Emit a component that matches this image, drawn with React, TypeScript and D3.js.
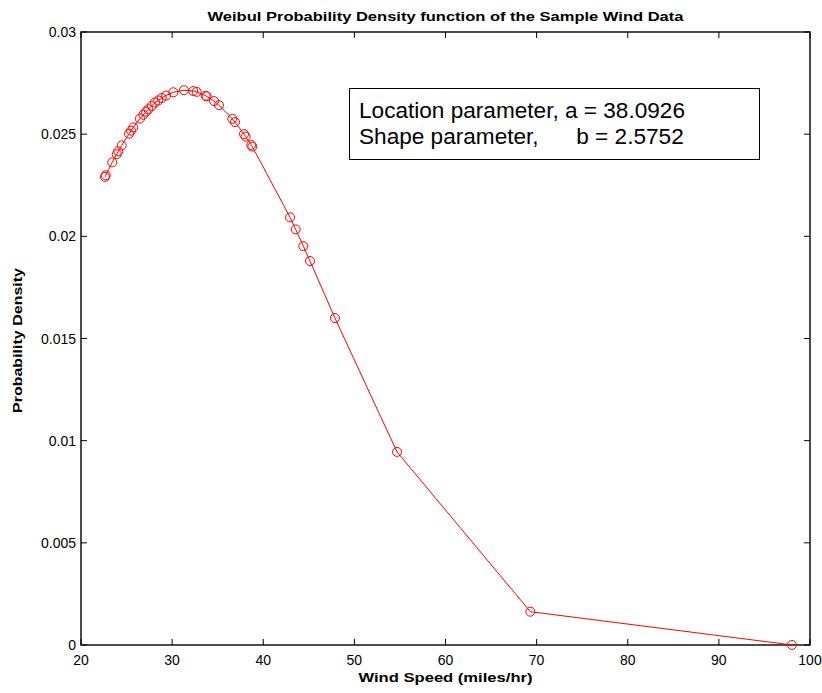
import React from 'react';
import * as d3 from 'd3';

const windSpeed = [22.63, 22.72, 23.43, 23.92, 24.09, 24.47, 25.27, 25.49, 25.74, 26.47, 26.84, 27.13, 27.39, 27.76, 28.12, 28.48, 28.86, 29.33, 30.13, 31.3, 32.32, 32.7, 33.68, 33.79, 34.6, 35.14, 36.6, 36.9, 37.89, 38.07, 38.69, 38.8, 42.94, 43.56, 44.4, 45.13, 47.87, 54.68, 69.31, 98.02];
const density = [0.02291, 0.02299, 0.02362, 0.02402, 0.02416, 0.02445, 0.02502, 0.02517, 0.02533, 0.02576, 0.02595, 0.0261, 0.02622, 0.02638, 0.02655, 0.02665, 0.02677, 0.02689, 0.02705, 0.02715, 0.02711, 0.02707, 0.02688, 0.02685, 0.02662, 0.02642, 0.02575, 0.02559, 0.025, 0.02488, 0.02447, 0.02439, 0.02093, 0.02034, 0.01952, 0.01879, 0.016, 0.00945, 0.00163, 0.0000033];

const xTicks = [20, 30, 40, 50, 60, 70, 80, 90, 100];
const xTickLabels = ['20', '30', '40', '50', '60', '70', '80', '90', '100'];
const yTicks = [0, 0.005, 0.01, 0.015, 0.02, 0.025, 0.03];
const yTickLabels = ['0', '0.005', '0.01', '0.015', '0.02', '0.025', '0.03'];

const titleText = 'Weibul Probability Density function of the Sample Wind Data';
const xLabelText = 'Wind Speed (miles/hr)';
const yLabelText = 'Probability Density';
const annotationLines = ['Location parameter, a = 38.0926', 'Shape parameter,      b = 2.5752'];

const W = 822;
const H = 693;
const left = 81;
const right = 810;
const top = 32;
const bottom = 645;
const FONT = "'Liberation Sans', Arial, Helvetica, sans-serif";
const RED = '#ff0000';
const TICK = 6;

export default function App() {
  const x = d3.scaleLinear().domain([20, 100]).range([left, right]);
  const y = d3.scaleLinear().domain([0, 0.03]).range([bottom, top]);
  const pts = windSpeed.map((w, i) => [x(w), y(density[i])] as [number, number]);
  const line = d3.line<[number, number]>()(pts) || '';

  return (
    <svg width={W} height={H} style={{ position: 'absolute', left: 0, top: 0, background: '#fff' }} xmlns="http://www.w3.org/2000/svg">
      <rect x={0} y={0} width={W} height={H} fill="#fff" />
      <text x={(left + right) / 2} y={21} textAnchor="middle" fontFamily={FONT} fontWeight="bold" fontSize={13.5} textLength={476} lengthAdjust="spacingAndGlyphs">{titleText}</text>

      <rect x={left} y={top} width={right - left} height={bottom - top} fill="none" stroke="#000" strokeWidth={1.4} />

      {xTicks.map((t, i) => (
        <g key={'x' + i}>
          <line x1={x(t)} x2={x(t)} y1={bottom} y2={bottom - TICK} stroke="#000" strokeWidth={1} />
          <line x1={x(t)} x2={x(t)} y1={top} y2={top + TICK} stroke="#000" strokeWidth={1} />
          <text x={x(t)} y={665} textAnchor="middle" fontFamily={FONT} fontSize={14}>{xTickLabels[i]}</text>
        </g>
      ))}
      {yTicks.map((t, i) => (
        <g key={'y' + i}>
          <line x1={left} x2={left + TICK} y1={y(t)} y2={y(t)} stroke="#000" strokeWidth={1} />
          <line x1={right} x2={right - TICK} y1={y(t)} y2={y(t)} stroke="#000" strokeWidth={1} />
          <text x={left - 5} y={y(t) + 5} textAnchor="end" fontFamily={FONT} fontSize={14}>{yTickLabels[i]}</text>
        </g>
      ))}

      <text x={(left + right) / 2} y={682} textAnchor="middle" fontFamily={FONT} fontWeight="bold" fontSize={13.5} textLength={174} lengthAdjust="spacingAndGlyphs">{xLabelText}</text>
      <text transform={`translate(22, ${(top + bottom) / 2 + 2}) rotate(-90)`} textAnchor="middle" fontFamily={FONT} fontWeight="bold" fontSize={13.5} textLength={145} lengthAdjust="spacingAndGlyphs">{yLabelText}</text>

      <path d={line} fill="none" stroke={RED} strokeWidth={1} />
      {pts.map((p, i) => (
        <circle key={'p' + i} cx={p[0]} cy={p[1]} r={4.5} fill="none" stroke={RED} strokeWidth={1} />
      ))}

      <rect x={349.5} y={88.5} width={410} height={71} fill="#fff" stroke="#000" strokeWidth={1} />
      {annotationLines.map((s, i) => (
        <text key={'a' + i} x={359} y={118 + i * 26} fontFamily={FONT} fontSize={22.6} style={{ whiteSpace: 'pre' }}>{s}</text>
      ))}
    </svg>
  );
}
